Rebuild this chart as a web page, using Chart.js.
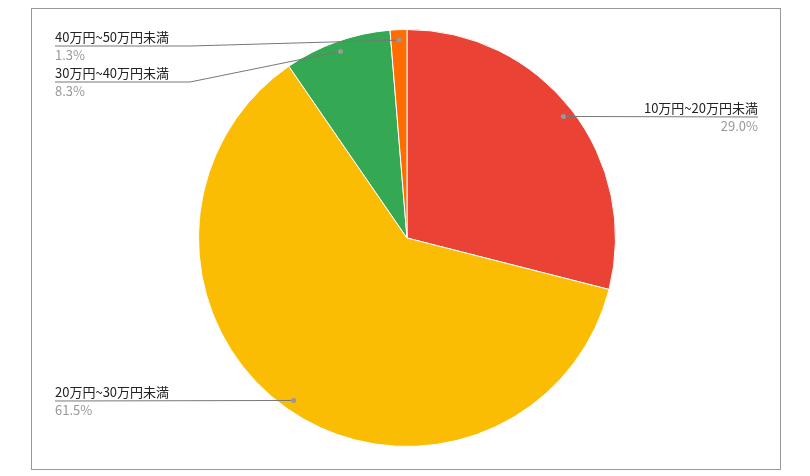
<!DOCTYPE html>
<html>
<head>
<meta charset="utf-8">
<script src="https://cdn.jsdelivr.net/npm/chart.js@4/dist/chart.umd.min.js"></script>
<style>
  html, body { margin: 0; padding: 0; background: #fff; }
  #wrap { width: 810px; height: 476px; position: relative; }
</style>
</head>
<body>
<div id="wrap"><canvas id="pie"></canvas></div>
<script>
const categories = ['10万円~20万円未満', '20万円~30万円未満', '30万円~40万円未満', '40万円~50万円未満'];
const shares = [29.0, 61.5, 8.3, 1.3];
const percentLabels = ['29.0%', '61.5%', '8.3%', '1.3%'];
const colors = ['#EA4335', '#FBBC04', '#34A853', '#FF6D01'];

// where each label sits: side, text baseline y, line y, elbow x
const labelSpots = [
  { side: 'right', x: 758, lineY: 117 },
  { side: 'left', x: 55, lineY: 401 },
  { side: 'left', x: 55, lineY: 82, elbow: 190 },
  { side: 'left', x: 55, lineY: 46, elbow: 190 }
];

const leaderPlugin = {
  id: 'leaders',
  afterDraw(chart) {
    const ctx = chart.ctx;
    ctx.save();
    // outer frame
    ctx.strokeStyle = '#999';
    ctx.lineWidth = 1;
    ctx.strokeRect(31.5, 8.5, 749, 461);

    const arcs = chart.getDatasetMeta(0).data;
    ctx.font = '13px "Noto Sans CJK JP", "Liberation Sans", sans-serif';
    arcs.forEach((arc, i) => {
      const mid = (arc.startAngle + arc.endAngle) / 2;
      const r = arc.outerRadius * 0.95;
      const px = arc.x + Math.cos(mid) * r;
      const py = arc.y + Math.sin(mid) * r;
      const s = labelSpots[i];
      ctx.strokeStyle = '#777';
      ctx.lineWidth = 1;
      ctx.beginPath();
      ctx.moveTo(px, py);
      if (s.elbow) ctx.lineTo(s.elbow, s.lineY);
      ctx.lineTo(s.x, s.lineY);
      ctx.stroke();
      ctx.fillStyle = '#999';
      ctx.beginPath();
      ctx.arc(px, py, 2.5, 0, Math.PI * 2);
      ctx.fill();

      ctx.textAlign = s.side === 'right' ? 'right' : 'left';
      ctx.textBaseline = 'alphabetic';
      ctx.fillStyle = '#222';
      ctx.fillText(categories[i], s.x, s.lineY - 4);
      ctx.fillStyle = '#999';
      ctx.fillText(percentLabels[i], s.x, s.lineY + 14);
    });
    ctx.restore();
  }
};

new Chart(document.getElementById('pie'), {
  type: 'pie',
  data: {
    labels: categories,
    datasets: [{
      data: shares,
      backgroundColor: colors,
      borderColor: '#fff',
      borderWidth: 1
    }]
  },
  options: {
    responsive: true,
    maintainAspectRatio: false,
    animation: false,
    layout: { padding: { top: 29, bottom: 29, left: 198, right: 194 } },
    plugins: { legend: { display: false }, tooltip: { enabled: false } }
  },
  plugins: [leaderPlugin]
});
</script>
</body>
</html>
